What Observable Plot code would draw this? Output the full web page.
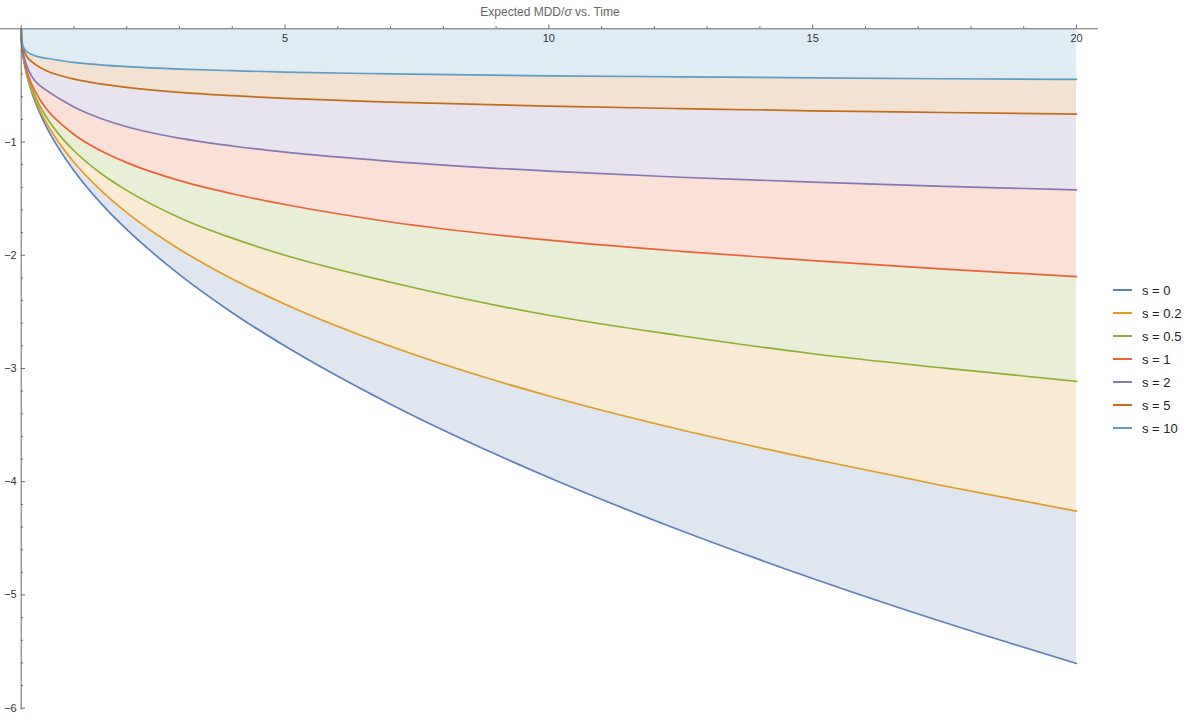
<!DOCTYPE html>
<html><head><meta charset="utf-8">
<script src="https://cdn.jsdelivr.net/npm/d3@7"></script>
<script src="https://cdn.jsdelivr.net/npm/@observablehq/plot@0.6"></script>
<style>
body{margin:0;background:#fff;font-family:"Liberation Sans",Arial,sans-serif;}
#wrap{position:relative;width:1190px;height:720px;overflow:hidden;}
#chart{position:absolute;left:0;top:0;}
#title{position:absolute;left:0;width:1100px;top:5px;text-align:center;font-size:12px;color:#666;}
#legend{position:absolute;left:1113px;top:278.5px;font-size:13px;color:#222;}
.item{height:23px;display:flex;align-items:center;}
.sw{width:19px;height:1.7px;margin-right:10px;}
</style></head><body>
<div id="wrap"><div id="chart"></div><div id="title">Expected MDD/<i>σ</i> vs. Time</div><div id="legend"></div></div>
<script>
// ---- data ----
const T    = [0, 0.005, 0.02, 0.05, 0.1, 0.2, 0.35, 0.5, 0.75, 1, 1.5, 2, 3, 4, 5, 7, 10, 12.5, 15, 17.5, 20];
const s0   = [0, -0.089, -0.177, -0.280, -0.396, -0.560, -0.741, -0.886, -1.085, -1.253, -1.535, -1.772, -2.171, -2.507, -2.802, -3.316, -3.963, -4.431, -4.854, -5.243, -5.605];
const s02  = [0, -0.0885, -0.176, -0.276, -0.389, -0.545, -0.715, -0.849, -1.029, -1.178, -1.423, -1.623, -1.947, -2.209, -2.432, -2.804, -3.243, -3.541, -3.799, -4.038, -4.26];
const s05  = [0, -0.088, -0.173, -0.271, -0.378, -0.524, -0.678, -0.797, -0.952, -1.077, -1.273, -1.427, -1.668, -1.849, -2.0, -2.238, -2.53, -2.711, -2.87, -2.997, -3.113];
const s1   = [0, -0.087, -0.17, -0.262, -0.361, -0.491, -0.622, -0.719, -0.838, -0.933, -1.075, -1.182, -1.341, -1.457, -1.552, -1.706, -1.867, -1.965, -2.048, -2.122, -2.189];
const s2   = [0, -0.085, -0.165, -0.24, -0.32, -0.42, -0.50, -0.55, -0.625, -0.69, -0.79, -0.865, -0.966, -1.035, -1.089, -1.170, -1.257, -1.311, -1.354, -1.391, -1.423];
const s5   = [0, -0.08, -0.14, -0.19, -0.24, -0.29, -0.34, -0.375, -0.415, -0.445, -0.487, -0.518, -0.562, -0.591, -0.614, -0.648, -0.683, -0.705, -0.724, -0.739, -0.753];
const s10  = [0, -0.074, -0.125, -0.168, -0.198, -0.227, -0.25, -0.262, -0.28, -0.297, -0.318, -0.334, -0.356, -0.37, -0.382, -0.398, -0.415, -0.424, -0.433, -0.441, -0.447];
const labels = ["s = 0", "s = 0.2", "s = 0.5", "s = 1", "s = 2", "s = 5", "s = 10"];
const colors = ["#5E81B5", "#E19C24", "#8FB032", "#EB6235", "#8778B3", "#C56E1A", "#5D9EC7"];
const xMajor = [5, 10, 15, 20];
const xMinor = [1,2,3,4,6,7,8,9,11,12,13,14,16,17,18,19];
const yMajor = [-1, -2, -3, -4, -5, -6];
const yMinor = d3.range(1, 30).map(i => -i * 0.2).filter(v => Math.abs(v - Math.round(v)) > 1e-6);

const series = [s0, s02, s05, s1, s2, s5, s10];
const keys = series.map((_, i) => "k" + i);
const rows = T.map((t, j) => {
  const r = {t};
  series.forEach((s, i) => r[keys[i]] = s[j]);
  return r;
});

const W = 1100, H = 720;
const mL = 20.7, xEnd = 1076, mT = 28.3, yEnd = 707.7;
const pxX = (xEnd - mL) / 20, pxY = (yEnd - mT) / 6;
const axisColor = "#6b6b6b";

const marks = [];
keys.forEach((k, i) => {
  marks.push(Plot.areaY(rows, {
    x: "t", y1: k, y2: i < keys.length - 1 ? keys[i + 1] : 0,
    fill: colors[i], fillOpacity: 0.2, curve: "monotone-x"
  }));
});
keys.forEach((k, i) => {
  marks.push(Plot.line(rows, {x: "t", y: k, stroke: colors[i], strokeWidth: 1.7, curve: "monotone-x"}));
});
// axes
marks.push(Plot.ruleY([0], {x1: -mL / pxX, x2: 20 + 22 / pxX, stroke: axisColor, strokeWidth: 1}));
marks.push(Plot.ruleX([0], {y1: 3 / pxY, y2: -6 - 2 / pxY, stroke: axisColor, strokeWidth: 1}));
marks.push(Plot.ruleX(xMajor, {x: d => d, y1: 0, y2: 3.8 / pxY, stroke: axisColor}));
marks.push(Plot.ruleX(xMinor, {x: d => d, y1: 0, y2: 2.2 / pxY, stroke: axisColor}));
marks.push(Plot.ruleY(yMajor, {y: d => d, x1: 0, x2: 4.3 / pxX, stroke: axisColor}));
marks.push(Plot.ruleY(yMinor, {y: d => d, x1: 0, x2: 2.3 / pxX, stroke: axisColor}));
marks.push(Plot.text(xMajor, {x: d => d, y: 0, dy: 9.5, text: d => String(d), fontSize: 11, fill: "#333"}));
marks.push(Plot.text(yMajor, {x: 0, y: d => d, dx: -4.5, textAnchor: "end", text: d => "\u2212" + Math.abs(d), fontSize: 11, fill: "#333"}));

const chart = Plot.plot({
  width: W, height: H,
  marginLeft: mL, marginRight: W - xEnd, marginTop: mT, marginBottom: H - yEnd,
  x: {domain: [0, 20], axis: null},
  y: {domain: [-6, 0], axis: null},
  style: {fontFamily: "'Liberation Sans', Arial, sans-serif", background: "transparent", overflow: "visible"},
  marks
});
document.getElementById("chart").appendChild(chart);

const legend = d3.select("#legend");
labels.forEach((l, i) => {
  const it = legend.append("div").attr("class", "item");
  it.append("div").attr("class", "sw").style("background", colors[i]);
  it.append("span").text(l);
});
</script>
</body></html>
